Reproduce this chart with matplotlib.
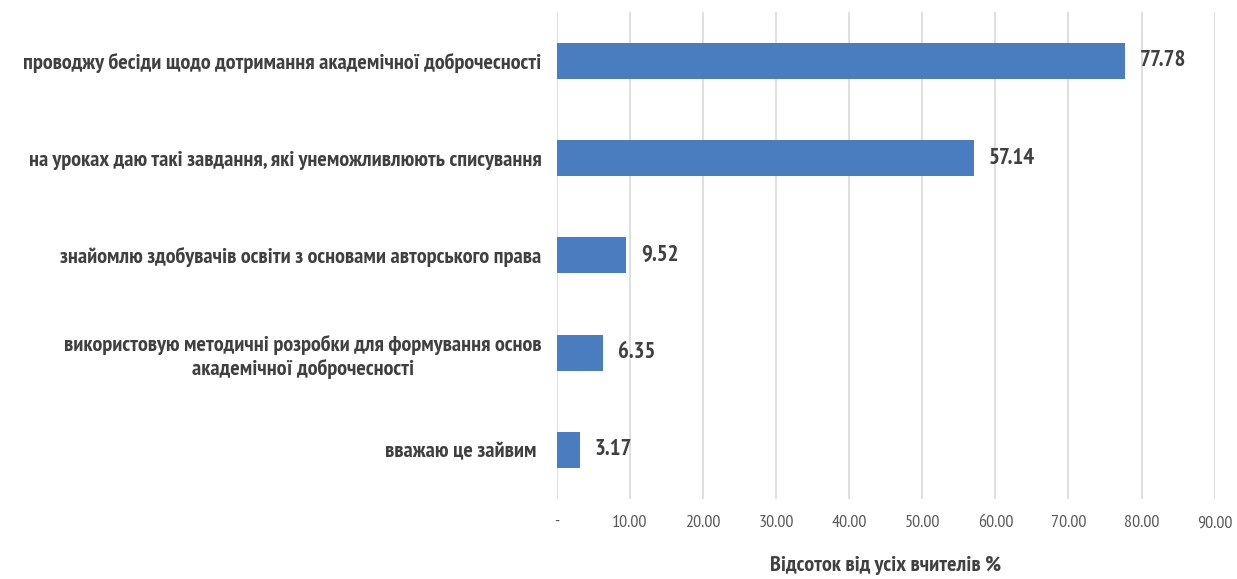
import numpy as np
import matplotlib as mpl
import matplotlib.pyplot as plt

mpl.rcParams['font.family'] = ['PT Sans Narrow', 'DejaVu Sans']

categories = [
    'проводжу бесіди щодо дотримання академічної доброчесності',
    'на уроках даю такі завдання, які унеможливлюють списування',
    'знайомлю здобувачів освіти з основами авторського права',
    'використовую методичні розробки для формування основ\nакадемічної доброчесності',
    'вважаю це зайвим ',
]
values = [77.78, 57.14, 9.52, 6.35, 3.17]
ticks = [0, 10, 20, 30, 40, 50, 60, 70, 80, 90]
tick_labels = ['-'] + ['{:.2f}'.format(t) for t in ticks[1:]]

fig = plt.figure(figsize=(12.37, 5.79), dpi=100)
ax = fig.add_axes([0.450, 0.139, 0.532, 0.840])

y = np.arange(len(categories))
ax.barh(y, values, height=0.37, color='#4a7cc0', zorder=3)

for yi, v in zip(y, values):
    ax.text(v + 2.0, yi, '{:.2f}'.format(v), va='center', ha='left',
            fontsize=16.5, fontweight='bold', color='#404040')

ax.set_xlim(0, 90)
ax.set_ylim(len(categories) - 0.5, -0.5)
ax.set_xticks(ticks)
ax.set_xticklabels(tick_labels, fontsize=13, color='#595959')
ax.set_yticks(y)
ax.set_yticklabels(categories, fontsize=16, fontweight='bold', color='#404040',
                   multialignment='center', linespacing=1.3)
ax.tick_params(axis='both', length=0)
ax.tick_params(axis='y', pad=11)
ax.tick_params(axis='x', pad=12)
ax.grid(axis='x', color='#d9d9d9', linewidth=1.2, zorder=0)
for s in ax.spines.values():
    s.set_visible(False)

ax.set_xlabel('Відсоток від усіх вчителів %', fontsize=16, fontweight='bold',
              color='#404040', labelpad=18)

fig.savefig('out.png', dpi=100)
